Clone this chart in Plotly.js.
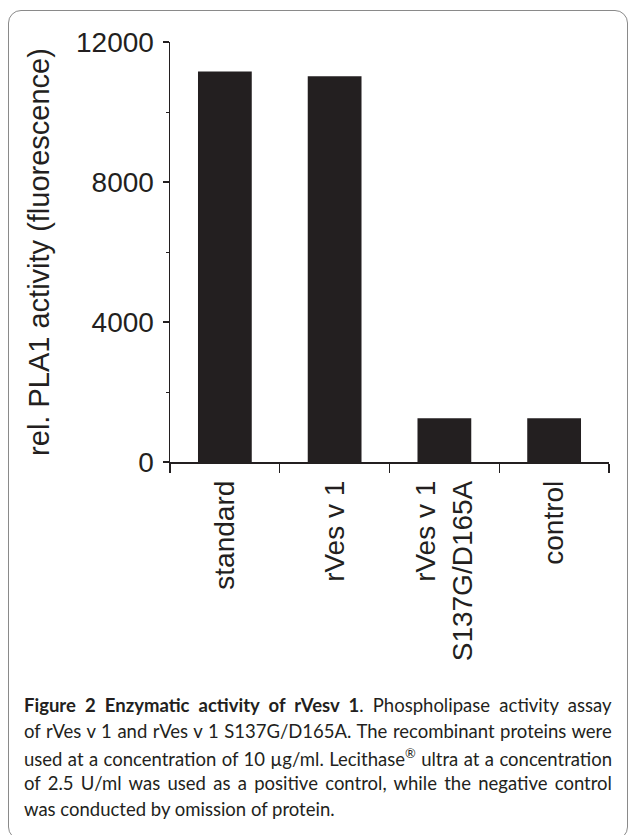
<!DOCTYPE html>
<html>
<head>
<meta charset="utf-8">
<script src="https://cdn.plot.ly/plotly-3.0.1.min.js"></script>
<style>
  html, body { margin: 0; padding: 0; background: #fff; }
  #wrap { position: relative; width: 628px; height: 835px; overflow: hidden; }
  #chart { position: absolute; left: 0; top: 0; width: 628px; height: 835px; }
  #frame { position: absolute; left: 8px; top: 10px; width: 620px; height: 830px;
           border: 1px solid #8a8a8a; border-radius: 13px; box-sizing: border-box; pointer-events: none; }
</style>
</head>
<body>
<div id="wrap">
  <div id="chart"></div>
  <div id="frame"></div>
</div>
<script>
// ---- data ----
const categories = ["standard", "rVes v 1", "rVes v 1<br>S137G/D165A", "control"];
const activity = [11160, 11020, 1250, 1250];
const yTickVals = [0, 4000, 8000, 12000];
const yTickText = ["0", "4000", "8000", "12000"];
const yTitle = "rel. PLA1 activity (fluorescence)";
const captionLines = [
  "<b>Figure 2 Enzymatic activity of rVesv 1</b>. Phospholipase activity assay",
  "of rVes v 1 and rVes v 1 S137G/D165A. The recombinant proteins were",
  "used at a concentration of 10 µg/ml. Lecithase<sup>®</sup> ultra at a concentration",
  "of 2.5 U/ml was used as a positive control, while the negative control",
  "was conducted by omission of protein."
];

// ---- layout helpers ----
const W = 628, H = 835;
const M = { l: 170, r: 19, t: 42, b: 373 };
const plotW = W - M.l - M.r, plotH = H - M.t - M.b;
const px2x = px => (px - M.l) / plotW;
const py2y = py => (H - M.b - py) / plotH;

const ink = "#231f20";
const captionMid = [705, 731, 757, 783, 809];
const captionLeft = 22, captionRight = 610;

const annotations = captionLines.map((t, i) => ({
  text: t,
  xref: "paper", yref: "paper",
  x: px2x(captionLeft), y: py2y(captionMid[i]),
  xanchor: "left", yanchor: "middle",
  showarrow: false, align: "left",
  font: { family: "Lato, 'Open Sans', sans-serif", size: 18.5, color: ink }
}));

const trace = {
  type: "bar",
  x: categories,
  y: activity,
  marker: { color: ink, line: { width: 0 } },
  hoverinfo: "x+y"
};

const layout = {
  width: W, height: H,
  margin: M,
  paper_bgcolor: "#fff", plot_bgcolor: "#fff",
  showlegend: false,
  bargap: 0.51,
  font: { family: "'Liberation Sans', Arial, sans-serif", size: 28, color: ink },
  xaxis: {
    type: "category",
    showgrid: false, zeroline: false,
    showline: true, linecolor: ink, linewidth: 1.5,
    ticks: "outside", ticklen: 9, tickwidth: 1.2, tickcolor: ink,
    tickson: "boundaries",
    tickangle: -90,
    ticklabelstandoff: 6,
    tickfont: { family: "'Liberation Sans', Arial, sans-serif", size: 28, color: ink }
  },
  yaxis: {
    range: [0, 12000],
    showgrid: false, zeroline: false,
    showline: true, linecolor: ink, linewidth: 1.5,
    ticks: "outside", ticklen: 6, tickwidth: 1.2, tickcolor: ink,
    tickvals: yTickVals, ticktext: yTickText,
    minor: { dtick: 2000, ticks: "outside", ticklen: 3, tickwidth: 1, tickcolor: ink },
    ticklabelstandoff: 3,
    tickfont: { family: "'Liberation Sans', Arial, sans-serif", size: 28, color: ink },
    title: { text: yTitle, standoff: 18,
             font: { family: "'Liberation Sans', Arial, sans-serif", size: 29, color: ink } }
  },
  annotations: annotations
};

Plotly.newPlot("chart", [trace], layout, { displayModeBar: false, staticPlot: true }).then(() => {
  // justify the caption lines (all but the last) like the printed figure legend
  const target = captionRight - captionLeft;
  for (let i = 0; i < captionLines.length - 1; i++) {
    const el = document.querySelector('.annotation[data-index="' + i + '"] .annotation-text');
    if (!el) continue;
    const w = el.getBBox().width;
    const spaces = (el.textContent.match(/ /g) || []).length;
    if (spaces > 0 && w < target) {
      el.style.wordSpacing = ((target - w) / spaces).toFixed(2) + "px";
    }
  }
});
</script>
</body>
</html>
